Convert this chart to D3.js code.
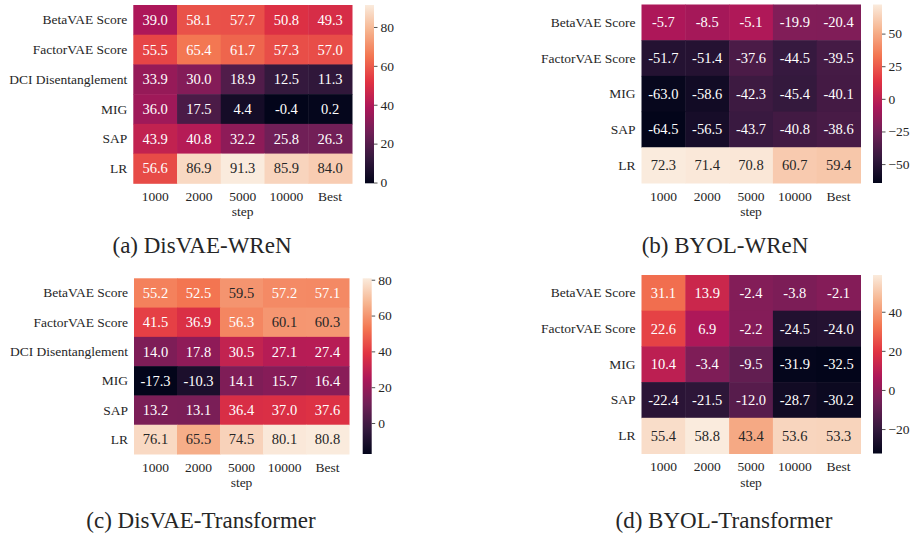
<!DOCTYPE html>
<html>
<head>
<meta charset="utf-8">
<script src="https://cdn.jsdelivr.net/npm/d3@7"></script>
<style>
  html, body { margin: 0; padding: 0; background: #fff; }
  svg { display: block; }
  svg text { font-family: "Liberation Serif", "Times New Roman", Times, serif; fill: #262626; }
</style>
</head>
<body>
<svg id="chart" width="912" height="533"></svg>
<script>
// ---- data ----
const steps = ["1000", "2000", "5000", "10000", "Best"];
const metricsWReN = ["BetaVAE Score", "FactorVAE Score", "DCI Disentanglement", "MIG", "SAP", "LR"];
const metricsBYOL = ["BetaVAE Score", "FactorVAE Score", "MIG", "SAP", "LR"];

const disvaeWren = [
  [39.0, 58.1, 57.7, 50.8, 49.3],
  [55.5, 65.4, 61.7, 57.3, 57.0],
  [33.9, 30.0, 18.9, 12.5, 11.3],
  [36.0, 17.5, 4.4, -0.4, 0.2],
  [43.9, 40.8, 32.2, 25.8, 26.3],
  [56.6, 86.9, 91.3, 85.9, 84.0]
];
const byolWren = [
  [-5.7, -8.5, -5.1, -19.9, -20.4],
  [-51.7, -51.4, -37.6, -44.5, -39.5],
  [-63.0, -58.6, -42.3, -45.4, -40.1],
  [-64.5, -56.5, -43.7, -40.8, -38.6],
  [72.3, 71.4, 70.8, 60.7, 59.4]
];
const disvaeTransformer = [
  [55.2, 52.5, 59.5, 57.2, 57.1],
  [41.5, 36.9, 56.3, 60.1, 60.3],
  [14.0, 17.8, 30.5, 27.1, 27.4],
  [-17.3, -10.3, 14.1, 15.7, 16.4],
  [13.2, 13.1, 36.4, 37.0, 37.6],
  [76.1, 65.5, 74.5, 80.1, 80.8]
];
const byolTransformer = [
  [31.1, 13.9, -2.4, -3.8, -2.1],
  [22.6, 6.9, -2.2, -24.5, -24.0],
  [10.4, -3.4, -9.5, -31.9, -32.5],
  [-22.4, -21.5, -12.0, -28.7, -30.2],
  [55.4, 58.8, 43.4, 53.6, 53.3]
];

const ticksA = [0, 20, 40, 60, 80];
const ticksB = [-50, -25, 0, 25, 50];
const ticksC = [0, 20, 40, 60, 80];
const ticksD = [-20, 0, 20, 40];

const captions = ["(a) DisVAE-WReN", "(b) BYOL-WReN", "(c) DisVAE-Transformer", "(d) BYOL-Transformer"];

const SERIF = "'Liberation Serif', 'Times New Roman', Times, serif";

// ---- "rocket" colormap (seaborn), piecewise linear through sampled anchors ----
const rocketStops = ["#03051a", "#35193e", "#701f57", "#ad1759", "#e13342", "#f37651", "#f6b48f", "#faebdd"];
const rocket = d3.scaleLinear()
  .domain(rocketStops.map((_, i) => i / (rocketStops.length - 1)))
  .range(rocketStops)
  .interpolate(d3.interpolateRgb)
  .clamp(true);

function luminance(c) {
  const rgb = d3.rgb(c);
  const lin = v => { v /= 255; return v <= 0.03928 ? v / 12.92 : Math.pow((v + 0.055) / 1.055, 2.4); };
  return 0.2126 * lin(rgb.r) + 0.7152 * lin(rgb.g) + 0.0722 * lin(rgb.b);
}

const svg = d3.select("#chart");
const defs = svg.append("defs");

const panels = [
  { rows: metricsWReN, values: disvaeWren, ticks: ticksA, caption: captions[0],
    x0: 133.3, x1: 352, y0: 5, y1: 183.3, cx0: 365, cx1: 374, capX: 202, capY: 253 },
  { rows: metricsBYOL, values: byolWren, ticks: ticksB, caption: captions[1],
    x0: 641.5, x1: 860.5, y0: 4.5, y1: 183, cx0: 873, cx1: 882, capX: 725, capY: 253 },
  { rows: metricsWReN, values: disvaeTransformer, ticks: ticksC, caption: captions[2],
    x0: 134, x1: 349, y0: 278.3, y1: 454, cx0: 362.7, cx1: 371.7, capX: 201, capY: 528 },
  { rows: metricsBYOL, values: byolTransformer, ticks: ticksD, caption: captions[3],
    x0: 641.5, x1: 860.5, y0: 275, y1: 453.5, cx0: 873, cx1: 882, capX: 724, capY: 528 }
];

panels.forEach((p, pi) => {
  const flat = p.values.flat();
  const vmin = d3.min(flat), vmax = d3.max(flat);
  const norm = d3.scaleLinear().domain([vmin, vmax]).range([0, 1]);
  const color = v => rocket(norm(v));

  const x = d3.scaleBand().domain(steps).range([p.x0, p.x1]);
  const y = d3.scaleBand().domain(p.rows).range([p.y0, p.y1]);

  const g = svg.append("g");

  // cells
  const cells = [];
  p.values.forEach((row, r) => row.forEach((v, c) => cells.push({ r: p.rows[r], c: steps[c], v })));

  g.selectAll("rect.cell").data(cells).join("rect")
    .attr("class", "cell")
    .attr("x", d => x(d.c))
    .attr("y", d => y(d.r))
    .attr("width", x.bandwidth() + 0.5)
    .attr("height", y.bandwidth() + 0.5)
    .attr("fill", d => color(d.v));

  g.selectAll("text.annot").data(cells).join("text")
    .attr("class", "annot")
    .attr("x", d => x(d.c) + x.bandwidth() / 2)
    .attr("y", d => y(d.r) + y.bandwidth() / 2)
    .attr("text-anchor", "middle")
    .attr("dominant-baseline", "central")
    .style("font-family", SERIF)
    .style("font-size", "14.5px")
    .style("fill", d => luminance(color(d.v)) > 0.408 ? "#262626" : "#ffffff")
    .text(d => d.v.toFixed(1));

  // row labels
  g.selectAll("text.rowlab").data(p.rows).join("text")
    .attr("class", "rowlab")
    .attr("x", p.x0 - 6)
    .attr("y", d => y(d) + y.bandwidth() / 2)
    .attr("text-anchor", "end")
    .attr("dominant-baseline", "central")
    .style("font-family", SERIF)
    .style("font-size", "13.5px")
    .text(d => d);

  // column labels
  g.selectAll("text.collab").data(steps).join("text")
    .attr("class", "collab")
    .attr("x", d => x(d) + x.bandwidth() / 2)
    .attr("y", p.y1 + 17.5)
    .attr("text-anchor", "middle")
    .style("font-family", SERIF)
    .style("font-size", "13.5px")
    .text(d => d);

  g.append("text")
    .attr("x", (p.x0 + p.x1) / 2)
    .attr("y", p.y1 + 33)
    .attr("text-anchor", "middle")
    .style("font-family", SERIF)
    .style("font-size", "13.5px")
    .text("step");

  // colorbar
  const gradId = "cbar" + pi;
  const grad = defs.append("linearGradient")
    .attr("id", gradId)
    .attr("x1", 0).attr("y1", 1).attr("x2", 0).attr("y2", 0);
  d3.range(0, 1.0001, 1 / 64).forEach(t => {
    grad.append("stop").attr("offset", t).attr("stop-color", rocket(t));
  });

  g.append("rect")
    .attr("x", p.cx0)
    .attr("y", p.y0)
    .attr("width", p.cx1 - p.cx0)
    .attr("height", p.y1 - p.y0)
    .attr("fill", `url(#${gradId})`);

  const cy = d3.scaleLinear().domain([vmin, vmax]).range([p.y1, p.y0]);
  const axis = d3.axisRight(cy)
    .tickValues(p.ticks)
    .tickSize(3.5)
    .tickPadding(3)
    .tickFormat(v => v < 0 ? "\u2212" + Math.abs(v) : String(v));

  const ax = g.append("g")
    .attr("transform", `translate(${p.cx1},0)`)
    .call(axis)
    .attr("font-family", null)
    .attr("font-size", null);
  ax.select(".domain").remove();
  ax.selectAll(".tick line").attr("stroke", "#262626").attr("stroke-width", 0.8);
  ax.selectAll(".tick text")
    .attr("fill", "#262626")
    .style("font-family", SERIF)
    .style("font-size", "13.5px");

  // caption
  svg.append("text")
    .attr("x", p.capX)
    .attr("y", p.capY)
    .attr("text-anchor", "middle")
    .style("font-family", SERIF)
    .style("font-size", "23px")
    .text(p.caption);
});
</script>
</body>
</html>
